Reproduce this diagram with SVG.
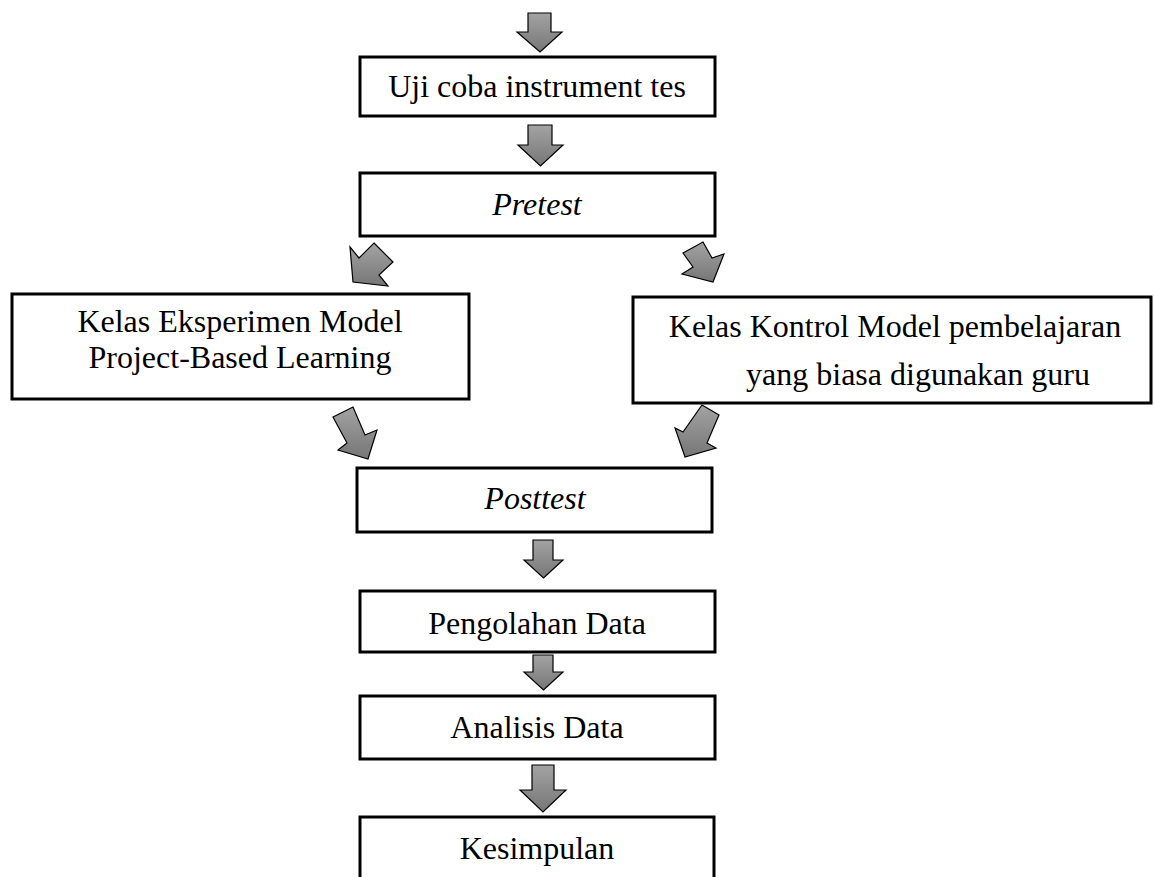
<svg xmlns="http://www.w3.org/2000/svg" width="1154" height="877" viewBox="0 0 1154 877">
<style>
.box{fill:#fff;stroke:#000;stroke-width:3}
.t{font-family:"Liberation Serif","Times New Roman",serif;font-size:32px;fill:#000;text-anchor:middle}
.i{font-style:italic}
.arr{fill:url(#g);stroke:#000;stroke-width:1.2;stroke-linejoin:miter}
</style>
<defs>
<linearGradient id="g" x1="0" y1="0" x2="0" y2="1">
<stop offset="0" stop-color="#a3a3a3"/>
<stop offset="1" stop-color="#767676"/>
</linearGradient>
<clipPath id="clipR"><rect x="633" y="297" width="518" height="97"/></clipPath>
</defs>
<rect width="1154" height="877" fill="#fff"/>
<g id="connectors">
<polygon class="arr" points="528,13 551,13 551,32 562,32 540,52 517,32 528,32"/>
<polygon class="arr" points="528,125 552,125 552,145 563,145 540.5,166 518,145 528,145"/>
<polygon class="arr" points="374,243 393,262 379,275 388,286 353,282 350,247 359,258"/>
<polygon class="arr" points="683,253 703,242 712,258 724,254 713,282 682,274 693,267"/>
<polygon class="arr" points="333,417 353,407 365,435 377,430 368,459 338,450 347,443"/>
<polygon class="arr" points="702,405 719,415 707,443 716,448 685,457 675,428 683,432"/>
<polygon class="arr" points="533,540 553,540 553,560 563,560 543.5,578 524,560 533,560"/>
<polygon class="arr" points="533,655 553,655 553,672 563,672 543.5,690 524,672 533,672"/>
<polygon class="arr" points="532,765 554,765 554,790 566,790 543,812 520,790 532,790"/>
</g>
<g id="uji">
<rect class="box" x="360" y="57" width="355" height="59"/>
<text class="t" x="537" y="97">Uji coba instrument tes</text>
</g>
<g id="pretest">
<rect class="box" x="360" y="173" width="355" height="63"/>
<text class="t i" x="537" y="215">Pretest</text>
</g>
<g id="eksperimen">
<rect class="box" x="12" y="294" width="457" height="105"/>
<text class="t" x="240" y="332">Kelas Eksperimen Model</text>
<text class="t" x="240" y="368">Project-Based Learning</text>
</g>
<g id="kontrol">
<rect class="box" x="633" y="297" width="518" height="106"/>
<text class="t" x="895" y="337">Kelas Kontrol Model pembelajaran</text>
<text class="t" x="918" y="385" clip-path="url(#clipR)">yang biasa digunakan guru</text>
</g>
<g id="posttest">
<rect class="box" x="357" y="468" width="355" height="64"/>
<text class="t i" x="535" y="509">Posttest</text>
</g>
<g id="pengolahan">
<rect class="box" x="360" y="591" width="355" height="61"/>
<text class="t" x="537" y="634">Pengolahan Data</text>
</g>
<g id="analisis">
<rect class="box" x="360" y="696" width="355" height="63"/>
<text class="t" x="537" y="738">Analisis Data</text>
</g>
<g id="kesimpulan">
<path class="box" d="M360,880 V817 H714 V880"/>
<text class="t" x="537" y="859">Kesimpulan</text>
</g>
</svg>
